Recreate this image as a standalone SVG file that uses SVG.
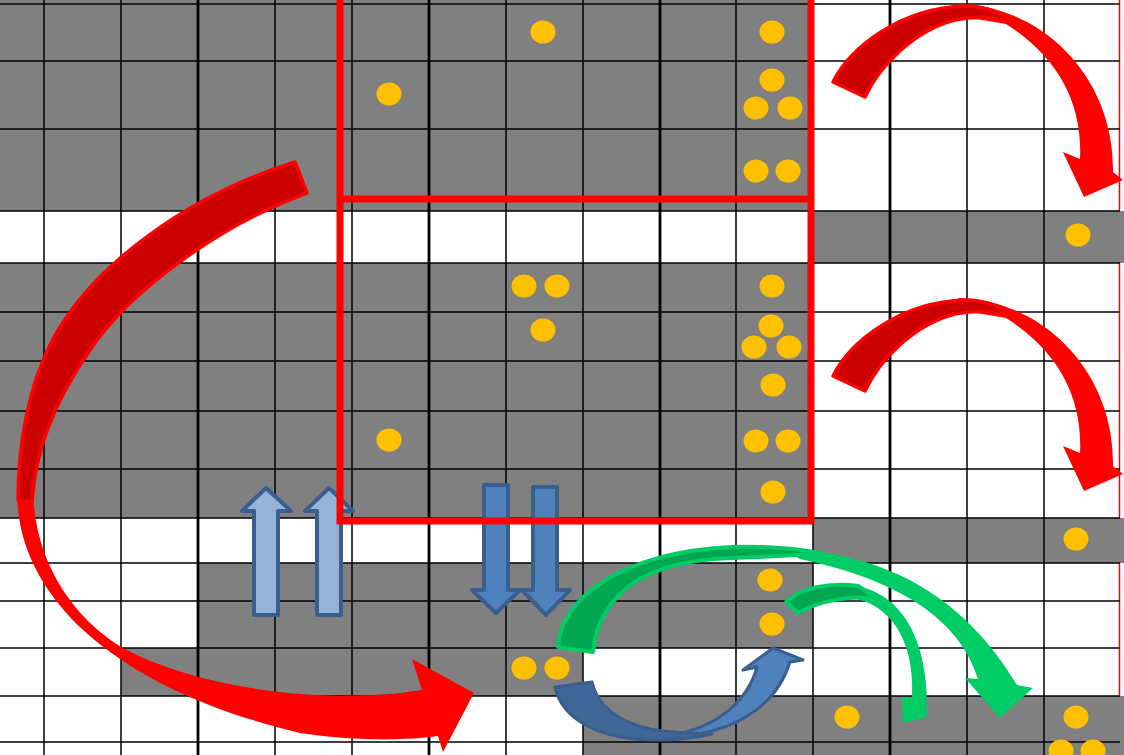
<svg xmlns="http://www.w3.org/2000/svg" width="1124" height="755" viewBox="0 0 1124 755">
<style>
.cell{fill:#808080}
.gl{stroke:#000;stroke-width:1.5;fill:none}
.gt{stroke:#000;stroke-width:2.8;fill:none}
.dot{fill:#FFC000}
.zone{fill:none;stroke:#FF0000;stroke-width:7}
.upa{fill:#95B3D7;stroke:#3A5F8F;stroke-width:4;stroke-linejoin:round}
.dna{fill:#4F81BD;stroke:#3A5F8F;stroke-width:4;stroke-linejoin:round}
.rdk{fill:#CC0000;stroke:#FF0000;stroke-width:3.5;stroke-linejoin:round}
.rbr{fill:#FF0000}
.gdk{fill:#00A651;stroke:#00CC66;stroke-width:4;stroke-linejoin:round}
.gbr{fill:#00CC66}
.bdk{fill:#3E6696;stroke:#3A5F8F;stroke-width:3;stroke-linejoin:round}
.bbr{fill:#4F81BD;stroke:#3A5F8F;stroke-width:3;stroke-linejoin:round}
</style>
<rect x="0" y="0" width="1124" height="755" fill="#FFFFFF"/>
<line x1="1119.5" y1="0" x2="1119.5" y2="755" stroke="#FF0000" stroke-width="1.5"/>
<g id="cells">
<rect class="cell" x="0" y="0" width="813" height="211"/>
<rect class="cell" x="813" y="211" width="311" height="52"/>
<rect class="cell" x="0" y="263" width="813" height="255"/>
<rect class="cell" x="813" y="518" width="311" height="45"/>
<rect class="cell" x="198" y="563" width="615" height="85"/>
<rect class="cell" x="121" y="648" width="462" height="48"/>
<rect class="cell" x="583" y="696" width="541" height="59"/>
</g>
<g id="grid">
<path class="gl" d="M0,4H1120M0,61H1120M0,129H1120M0,211H1120M0,263H1120M0,312H1120M0,361H1120M0,411H1120M0,469H1120M0,518H1120M0,563H1120M0,601H1120M0,648H1120M0,696H1120M0,742H1120"/>
<path class="gl" d="M44,0V755M121,0V755M275,0V755M352,0V755M506,0V755M583,0V755M736,0V755M813,0V755M967,0V755M1044,0V755"/>
<path class="gt" d="M198,0V755M429,0V755M660,0V755M890,0V755"/>
</g>
<g id="dots">
<ellipse class="dot" cx="543" cy="32" rx="12.5" ry="11.5"/>
<ellipse class="dot" cx="772" cy="32" rx="12.5" ry="11.5"/>
<ellipse class="dot" cx="772" cy="80" rx="12.5" ry="11.5"/>
<ellipse class="dot" cx="756" cy="108" rx="12.5" ry="11.5"/>
<ellipse class="dot" cx="790" cy="108" rx="12.5" ry="11.5"/>
<ellipse class="dot" cx="756" cy="171" rx="12.5" ry="11.5"/>
<ellipse class="dot" cx="788" cy="171" rx="12.5" ry="11.5"/>
<ellipse class="dot" cx="389" cy="94" rx="12.5" ry="11.5"/>
<ellipse class="dot" cx="1078" cy="235" rx="12.5" ry="11.5"/>
<ellipse class="dot" cx="524" cy="286" rx="12.5" ry="11.5"/>
<ellipse class="dot" cx="557" cy="286" rx="12.5" ry="11.5"/>
<ellipse class="dot" cx="543" cy="330" rx="12.5" ry="11.5"/>
<ellipse class="dot" cx="772" cy="286" rx="12.5" ry="11.5"/>
<ellipse class="dot" cx="771" cy="326" rx="12.5" ry="11.5"/>
<ellipse class="dot" cx="754" cy="347" rx="12.5" ry="11.5"/>
<ellipse class="dot" cx="789" cy="347" rx="12.5" ry="11.5"/>
<ellipse class="dot" cx="773" cy="385" rx="12.5" ry="11.5"/>
<ellipse class="dot" cx="756" cy="441" rx="12.5" ry="11.5"/>
<ellipse class="dot" cx="788" cy="441" rx="12.5" ry="11.5"/>
<ellipse class="dot" cx="389" cy="440" rx="12.5" ry="11.5"/>
<ellipse class="dot" cx="773" cy="492" rx="12.5" ry="11.5"/>
<ellipse class="dot" cx="1076" cy="539" rx="12.5" ry="11.5"/>
<ellipse class="dot" cx="770" cy="580" rx="12.5" ry="11.5"/>
<ellipse class="dot" cx="772" cy="624" rx="12.5" ry="11.5"/>
<ellipse class="dot" cx="524" cy="668" rx="12.5" ry="11.5"/>
<ellipse class="dot" cx="557" cy="668" rx="12.5" ry="11.5"/>
<ellipse class="dot" cx="847" cy="717" rx="12.5" ry="11.5"/>
<ellipse class="dot" cx="1076" cy="717" rx="12.5" ry="11.5"/>
<ellipse class="dot" cx="1061" cy="751" rx="12.5" ry="11.5"/>
<ellipse class="dot" cx="1093" cy="751" rx="12.5" ry="11.5"/>
</g>
<g id="shift-arrows">
<path class="upa" d="M254,615V511H242L266,488L291,511H278V615Z"/>
<path class="upa" d="M317,615V511H305L329,488L353,511H341V615Z"/>
<path class="dna" d="M484,485H508V590H520L496,613L472,590H484Z"/>
<path class="dna" d="M533,487H557V590H570L546,615L522,590H533Z"/>
</g>
<g id="zones">
<path class="zone" d="M340,-5V521H811V-5"/>
<path class="zone" d="M340,199H811"/>
</g>
<g id="connectors">
<g id="red-left">
<path class="rbr" d="M17,492C17,600 120,690 300,733C360,742 410,740 438,736L443,752L474,693L412,659L422,690C330,705 200,690 121,647C70,615 35,560 33,492Z"/>
<path class="rdk" d="M295,162C190,195 90,265 50,345C30,385 18,440 18,500L32,502C35,450 55,400 90,350C130,290 220,225 307,193Z"/>
</g>
<g id="red-top">
<path class="rbr" d="M958,4C1045,6 1115,80 1113,172L1123,180L1084,197L1063,152L1080,159C1083,100 1055,55 1006,24L965,17Z"/>
<path class="rdk" d="M833,82C850,48 900,8 965,6C985,6 1000,12 1015,22C995,17 975,16 955,20C915,30 880,65 865,97Z"/>
</g>
<g id="red-mid" transform="translate(0,294)">
<path class="rbr" d="M958,4C1045,6 1115,80 1113,172L1123,180L1084,197L1063,152L1080,159C1083,100 1055,55 1006,24L965,17Z"/>
<path class="rdk" d="M833,82C850,48 900,8 965,6C985,6 1000,12 1015,22C995,17 975,16 955,20C915,30 880,65 865,97Z"/>
</g>
<g id="green-big">
<path class="gbr" d="M780,548C880,553 960,590 1017,685L1033,688L1000,718L965,678L978,679C960,620 900,580 800,559Z"/>
<path class="gdk" d="M558,647C560,600 620,552 733,547C770,546 800,549 820,553C790,556 760,557 733,558C650,560 600,590 593,652Z"/>
</g>
<g id="green-small">
<path class="gbr" d="M840,584C895,585 930,630 927,717L903,723L902,697L912,697C915,640 890,603 850,598Z"/>
<path class="gdk" d="M786,602C800,588 830,582 858,586C865,590 870,595 872,598C850,596 820,600 798,613Z"/>
</g>
<g id="blue-curve">
<path class="bbr" d="M675,737C730,733 775,710 790,662L803,660L773,648L743,670L757,667C748,700 720,725 675,735Z"/>
<path class="bdk" d="M555,687C562,720 600,740 657,740C680,740 700,737 712,734C690,733 670,733 650,729C620,722 598,708 592,682Z"/>
</g>
</g>
</svg>
